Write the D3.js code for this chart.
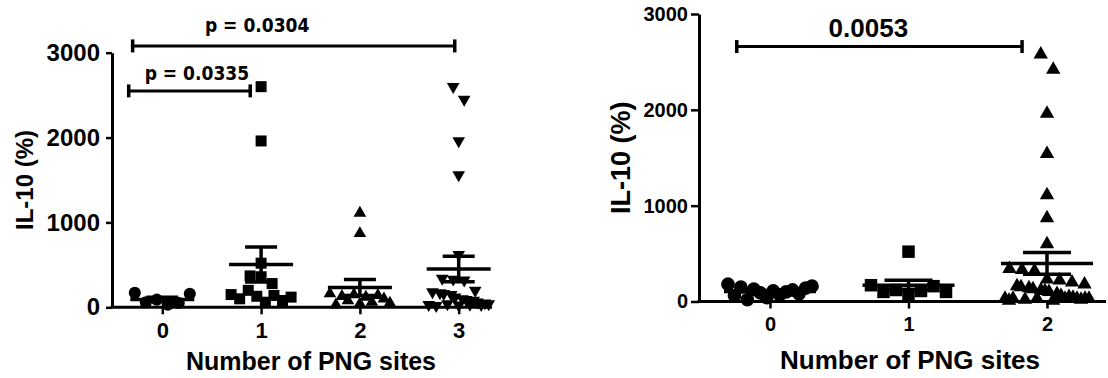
<!DOCTYPE html>
<html><head><meta charset="utf-8">
<script src="https://cdn.jsdelivr.net/npm/d3@7"></script>
<style>
  body { margin: 0; background: #fff; }
  svg { display: block; }
</style>
</head><body>
<svg id="chart" width="1108" height="378"></svg>
<script>
// ---- Data: IL-10 (%) by number of PNG sites ----
const leftCategories = ["0", "1", "2", "3"];
const leftGroup0 = [170, 60, 90, 30, 50, 160];
const leftGroup1 = [2600, 1960, 520, 370, 360, 280, 150, 100, 200, 130, 60, 140, 80, 120];
const leftGroup2 = [1110, 870, 160, 30, 130, 80, 150, 40, 120, 60, 140, 100, 50];
const leftGroup3 = [2600, 2450, 1960, 1560, 620, 340, 330, 320, 200, 30, 180, 20, 170, 160,
                    40, 150, 120, 25, 100, 90, 35, 80, 60, 30, 50, 40];

const rightCategories = ["0", "1", "2"];
const rightGroup0 = [180, 60, 150, 20, 130, 90, 40, 110, 70, 100, 120, 80, 140, 160];
const rightGroup1 = [520, 170, 100, 120, 80, 110, 160, 100];
const rightGroup2 = [2580, 2420, 1960, 1540, 1110, 870, 600, 340, 30, 330, 320, 230, 10, 220,
                     200, 30, 180, 160, 150, 20, 140, 130, 30, 120, 110, 100, 10, 80, 60, 30,
                     50, 40, 30, 20, 30, 30];

const yTickValues = [0, 1000, 2000, 3000];

// comparison brackets: span in category units, bracket level and label level in data units
const leftBrackets = [
  { from: -0.30, to: 2.96, level: 3080, label: "p = 0.0304", labelAt: 0.96, labelLevel: 3247 },
  { from: -0.34, to: 0.89, level: 2550, label: "p = 0.0335", labelAt: 0.35, labelLevel: 2678 }
];
const rightBrackets = [
  { from: -0.24, to: 1.82, level: 2660, label: "0.0053", labelAt: 0.71, labelLevel: 2760 }
];

const svg = d3.select("#chart");
const symbolShapes = {
  circle: d3.symbolCircle,
  square: d3.symbolSquare,
  up: d3.symbolTriangle,
  down: d3.symbolTriangle
};

// Column-scatter layout: points with similar values share a row and are spread sideways.
function columnScatter(values, y, cx, size, rowH, maxHalf) {
  const pts = values.map((v, i) => ({ v, i, py: y(v) }));
  const sorted = pts.slice().sort((a, b) => b.py - a.py);
  const rows = [];
  let cur = null;
  sorted.forEach(p => {
    if (!cur || cur.start - p.py > rowH) { cur = { start: p.py, items: [] }; rows.push(cur); }
    cur.items.push(p);
  });
  rows.forEach(r => {
    const items = r.items.sort((a, b) => a.i - b.i);
    const n = items.length;
    const sp = n > 1 ? Math.min(size, 2 * maxHalf / (n - 1)) : 0;
    items.forEach((p, k) => { p.px = cx + (k - (n - 1) / 2) * sp; });
  });
  return pts;
}

function drawPanel(cfg) {
  const g = svg.append("g");
  const y = d3.scaleLinear().domain([0, 3000]).range([cfg.y0, cfg.y1]);
  const x = d3.scalePoint().domain(cfg.categories).range([cfg.xFirst, cfg.xLast]);
  const xi = d3.scaleLinear().domain([0, cfg.categories.length - 1]).range([cfg.xFirst, cfg.xLast]);

  // y axis
  const yAxis = g.append("g")
    .attr("transform", `translate(${cfg.axisX},0)`)
    .call(d3.axisLeft(y).tickValues(yTickValues).tickFormat(d3.format("d"))
      .tickSize(cfg.yTickSize).tickSizeOuter(0).tickPadding(cfg.yTickPad));
  yAxis.select(".domain").attr("stroke", "#000").attr("stroke-width", 3);
  yAxis.selectAll(".tick line").attr("stroke", "#000").attr("stroke-width", 2.5);
  yAxis.selectAll(".tick text")
    .attr("fill", "#000")
    .style("font-family", "'Liberation Sans', Arial, sans-serif")
    .style("font-weight", "bold")
    .style("font-size", cfg.yTickFont + "px");

  // x axis
  const xAxis = g.append("g")
    .attr("transform", `translate(0,${cfg.y0})`)
    .call(d3.axisBottom(x).tickSize(cfg.xTickSize).tickPadding(cfg.xTickPad));
  xAxis.select(".domain").remove();
  xAxis.selectAll(".tick line").attr("stroke", "#000").attr("stroke-width", 2.5);
  xAxis.selectAll(".tick text")
    .attr("fill", "#000")
    .style("font-family", "'Liberation Sans', Arial, sans-serif")
    .style("font-weight", "bold")
    .style("font-size", cfg.xTickFont + "px");
  g.append("line")
    .attr("x1", cfg.axisX - 1.5).attr("x2", cfg.axisEnd)
    .attr("y1", cfg.y0).attr("y2", cfg.y0)
    .attr("stroke", "#000").attr("stroke-width", 3);

  // points and mean ± SEM
  cfg.groups.forEach((vals, gi) => {
    const cat = cfg.categories[gi];
    const cx = x(cat);
    const shape = cfg.shapes[gi];
    const size = cfg.markerSize;
    const pts = columnScatter(vals, y, cx, size, cfg.rowH, cfg.maxHalf);
    const area = shape === "square" ? size * size
      : shape === "circle" ? Math.PI * Math.pow(size * 0.55, 2)
      : Math.sqrt(3) / 4 * Math.pow(size * 1.15, 2);
    const sym = d3.symbol().type(symbolShapes[shape]).size(area);
    g.append("g").selectAll("path").data(pts).join("path")
      .attr("d", sym)
      .attr("transform", d => `translate(${d.px},${d.py})` + (shape === "down" ? " rotate(180)" : ""))
      .attr("fill", "#000");

    const m = d3.mean(vals);
    const sem = d3.deviation(vals) / Math.sqrt(vals.length);
    const eb = g.append("g").attr("stroke", "#000").attr("stroke-width", 3.5);
    eb.append("line").attr("x1", cx).attr("x2", cx).attr("y1", y(m - sem)).attr("y2", y(m + sem));
    eb.append("line").attr("x1", cx - cfg.meanHalf).attr("x2", cx + cfg.meanHalf).attr("y1", y(m)).attr("y2", y(m));
    [m - sem, m + sem].forEach(v => {
      eb.append("line").attr("x1", cx - cfg.capHalf).attr("x2", cx + cfg.capHalf).attr("y1", y(v)).attr("y2", y(v));
    });
  });

  // comparison brackets
  cfg.brackets.forEach(b => {
    const bg = g.append("g").attr("stroke", "#000");
    const x1 = xi(b.from), x2 = xi(b.to), yy = y(b.level);
    bg.append("line").attr("x1", x1).attr("x2", x2).attr("y1", yy).attr("y2", yy).attr("stroke-width", 3);
    [x1, x2].forEach(xx => {
      bg.append("line").attr("x1", xx).attr("x2", xx).attr("y1", yy - 6.5).attr("y2", yy + 6.5).attr("stroke-width", 3.5);
    });
    g.append("text")
      .attr("x", xi(b.labelAt)).attr("y", y(b.labelLevel))
      .attr("text-anchor", "middle")
      .style("font-family", cfg.pFont)
      .style("font-weight", "bold")
      .style("font-size", cfg.pSize + "px")
      .text(b.label);
  });

  // axis titles
  g.append("text")
    .attr("transform", `translate(${cfg.yTitleX},${(cfg.y0 + cfg.y1) / 2}) rotate(-90)`)
    .attr("text-anchor", "middle")
    .attr("dominant-baseline", "central")
    .style("font-family", "'Liberation Sans', Arial, sans-serif")
    .style("font-weight", "bold")
    .style("font-size", cfg.titleFont + "px")
    .text("IL-10 (%)");
  g.append("text")
    .attr("x", cfg.xTitleX).attr("y", cfg.xTitleY)
    .attr("text-anchor", "middle")
    .style("font-family", "'Liberation Sans', Arial, sans-serif")
    .style("font-weight", "bold")
    .style("font-size", cfg.xTitleFont + "px")
    .text("Number of PNG sites");
}

drawPanel({
  categories: leftCategories,
  groups: [leftGroup0, leftGroup1, leftGroup2, leftGroup3],
  shapes: ["circle", "square", "up", "down"],
  brackets: leftBrackets,
  y0: 307.3, y1: 52.7, xFirst: 162.3, xLast: 458.7,
  axisX: 112, axisEnd: 492,
  yTickSize: 6, yTickPad: 6, yTickFont: 24,
  xTickSize: 7, xTickPad: 8, xTickFont: 22,
  markerSize: 11, rowH: 14, maxHalf: 30,
  meanHalf: 32, capHalf: 16,
  pFont: "'DejaVu Sans Condensed', 'DejaVu Sans', sans-serif", pSize: 19,
  yTitleX: 24, titleFont: 24,
  xTitleX: 311, xTitleY: 370, xTitleFont: 25
});

drawPanel({
  categories: rightCategories,
  groups: [rightGroup0, rightGroup1, rightGroup2],
  shapes: ["circle", "square", "up"],
  brackets: rightBrackets,
  y0: 301.5, y1: 14, xFirst: 770, xLast: 1047,
  axisX: 699, axisEnd: 1106,
  yTickSize: 8, yTickPad: 3, yTickFont: 20,
  xTickSize: 7, xTickPad: 8, xTickFont: 20,
  markerSize: 12.5, rowH: 16, maxHalf: 42,
  meanHalf: 46, capHalf: 24,
  pFont: "'Liberation Sans', Arial, sans-serif", pSize: 26,
  yTitleX: 621, titleFont: 27,
  xTitleX: 910, xTitleY: 369, xTitleFont: 26
});
</script>
</body></html>
